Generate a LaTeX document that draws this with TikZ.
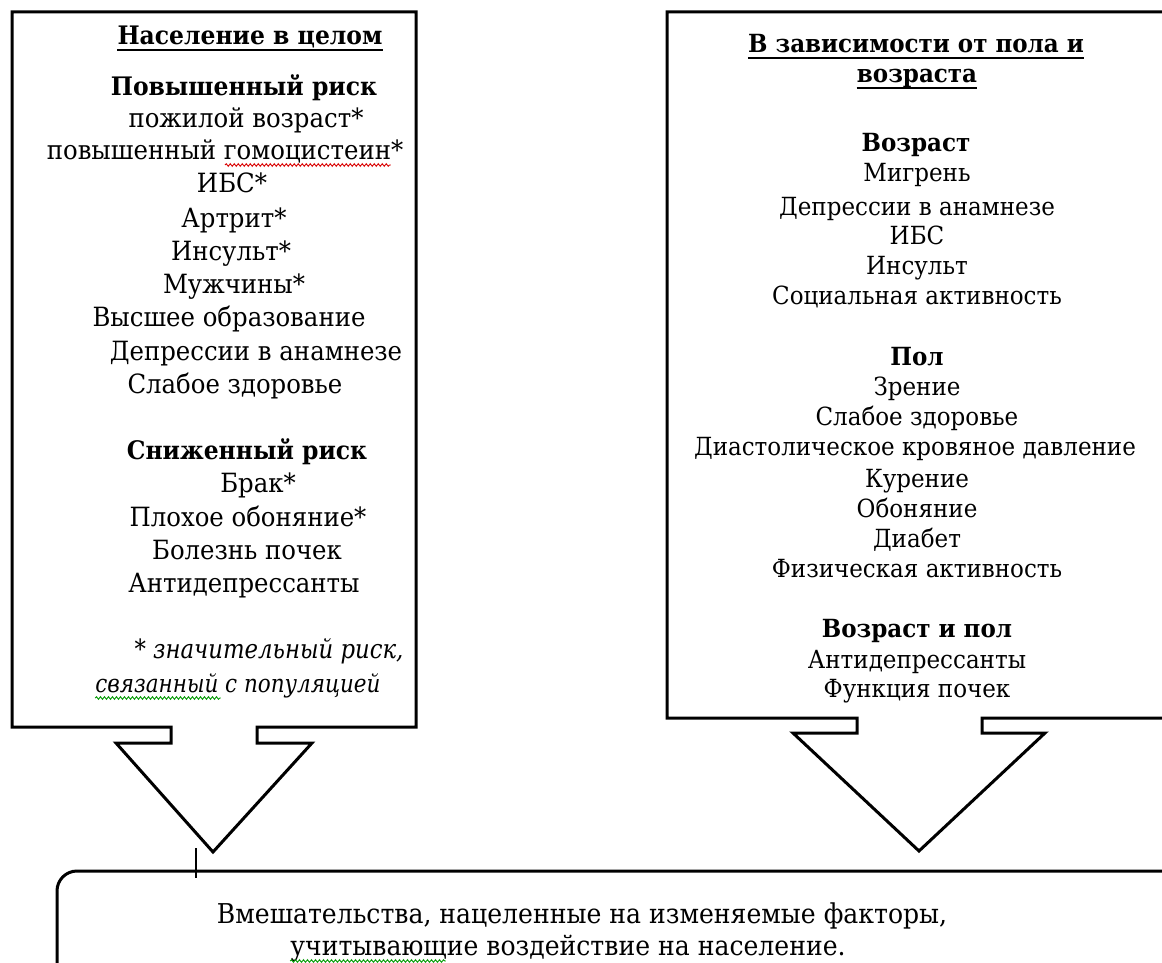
\documentclass[tikz,border=0pt]{standalone}
\usepackage{fontspec}
\setmainfont{DejaVu Serif}[FakeStretch=0.92, ItalicFeatures={FakeStretch=0.86}]
\usetikzlibrary{calc,decorations.pathmorphing}
\begin{document}
\begin{tikzpicture}[x=1pt,y=-1pt,
  lt/.style={font=\fontsize{26.5}{33}\selectfont, inner sep=0pt, anchor=base},
  lh/.style={font=\fontsize{25.5}{33}\selectfont\bfseries, inner sep=0pt, anchor=base},
  rt/.style={font=\fontsize{25}{30}\selectfont, inner sep=0pt, anchor=base},
  rh/.style={font=\fontsize{25}{30}\selectfont\bfseries, inner sep=0pt, anchor=base},
  bt/.style={font=\fontsize{27.3}{32}\selectfont, inner sep=0pt, anchor=base},
  frame/.style={line width=3pt, line join=miter, fill=white},
  uline/.style={line width=1.8pt},
  wavy/.style={line width=0.9pt, decorate, decoration={snake, amplitude=1.3pt, segment length=4pt}},
]
\path[use as bounding box] (0,0) rectangle (1162,963);
\clip (0,0) rectangle (1162,963);

% left box with arrow
\draw[frame] (171,727) -- (12,727) -- (12,12) -- (416,12) -- (416,727) -- (257,727)
  -- (257,743) -- (312,743) -- (213,852) -- (116,743) -- (171,743) -- cycle;
% right box with arrow
\draw[frame] (857,718) -- (667,718) -- (667,12) -- (1180,12) -- (1180,718) -- (982,718)
  -- (982,733) -- (1045,733) -- (919,851) -- (793,733) -- (857,733) -- cycle;
% bottom box
\draw[line width=3pt, rounded corners=20pt] (57,871) rectangle (1180,1020);
% cursor tick
\draw[line width=2.5pt] (196,848) -- (196,878);

% left texts
\node[lh] (L1) at (250,45) {Население в целом};
\draw[uline] ([yshift=-5pt]L1.base west) -- ([yshift=-5pt]L1.base east);
\node[lh] (L2) at (244,96) {Повышенный риск};
\node[lt] (L3) at (246,128) {пожилой возраст*};
\node[lt] (L4) at (225,160) {повышенный гомоцистеин*};
\draw[wavy, red!85!black] ($(L4.base west)!0.50!(L4.base east)+(0,5)$) -- ($(L4.base west)!0.965!(L4.base east)+(0,5)$);
\node[lt] (L5) at (232,193) {ИБС*};
\node[lt] (L6) at (234,227) {Артрит*};
\node[lt] (L7) at (231,260) {Инсульт*};
\node[lt] (L8) at (234,293) {Мужчины*};
\node[lt] (L9) at (229,326) {Высшее образование};
\node[lt] (L10) at (256,360) {Депрессии в анамнезе};
\node[lt] (L11) at (235,393) {Слабое здоровье};
\node[lh] (L12) at (247,459) {Сниженный риск};
\node[lt] (L13) at (258,492) {Брак*};
\node[lt] (L14) at (248,526) {Плохое обоняние*};
\node[lt] (L15) at (247,559) {Болезнь почек};
\node[lt] (L16) at (244,592) {Антидепрессанты};
\node[lt] (L17) at (269,658) {\itshape * значительный риск,};
\node[lt, font=\fontsize{25}{33}\selectfont] (L18) at (238,692) {\itshape связанный с популяцией};
\draw[wavy, green!60!black] ($(L18.base west)+(0,6)$) -- ($(L18.base west)!0.44!(L18.base east)+(0,6)$);

% right texts
\node[rh] (R1) at (916,53) {В зависимости от пола и};
\draw[uline] ([yshift=-5pt]R1.base west) -- ([yshift=-5pt]R1.base east);
\node[rh] (R2) at (917,83) {возраста};
\draw[uline] ([yshift=-5pt]R2.base west) -- ([yshift=-5pt]R2.base east);
\node[rh] (R3) at (916,152) {Возраст};
\node[rt] (R4) at (917,182) {Мигрень};
\node[rt] (R5) at (917,215) {Депрессии в анамнезе};
\node[rt] (R6) at (917,244) {ИБС};
\node[rt] (R7) at (917,274) {Инсульт};
\node[rt] (R8) at (917,304) {Социальная активность};
\node[rh] (R9) at (917,365) {Пол};
\node[rt] (R10) at (917,395) {Зрение};
\node[rt] (R11) at (917,425) {Слабое здоровье};
\node[rt] (R12) at (915,455) {Диастолическое кровяное давление};
\node[rt] (R13) at (917,487) {Курение};
\node[rt] (R14) at (917,517) {Обоняние};
\node[rt] (R15) at (917,547) {Диабет};
\node[rt] (R16) at (917,577) {Физическая активность};
\node[rh] (R17) at (917,637) {Возраст и пол};
\node[rt] (R18) at (917,668) {Антидепрессанты};
\node[rt] (R19) at (917,697) {Функция почек};

% bottom texts
\node[bt] (B1) at (582,923) {Вмешательства, нацеленные на изменяемые факторы,};
\node[bt] (B2) at (568,955) {учитывающие воздействие на население.};
\draw[wavy, green!60!black] ($(B2.base west)+(0,6)$) -- ($(B2.base west)!0.28!(B2.base east)+(0,6)$);
\end{tikzpicture}
\end{document}
